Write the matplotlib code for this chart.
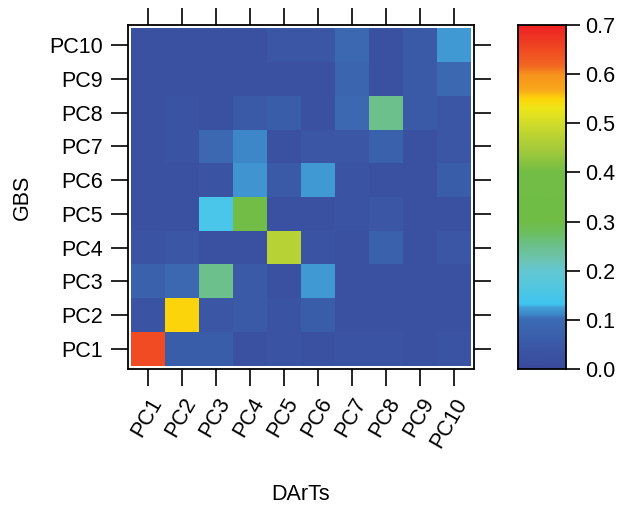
import numpy as np
import matplotlib
matplotlib.use('Agg')
import matplotlib.pyplot as plt
from matplotlib.colors import LinearSegmentedColormap

plt.rcParams['font.family'] = ['Liberation Sans', 'DejaVu Sans']

darts_labels = ['PC1', 'PC2', 'PC3', 'PC4', 'PC5', 'PC6', 'PC7', 'PC8', 'PC9', 'PC10']
gbs_labels = ['PC1', 'PC2', 'PC3', 'PC4', 'PC5', 'PC6', 'PC7', 'PC8', 'PC9', 'PC10']

# rows = GBS PC1..PC10, columns = DArTs PC1..PC10
gbs_pc1 = [0.65, 0.06, 0.06, 0.02, 0.03, 0.02, 0.03, 0.03, 0.02, 0.03]
gbs_pc2 = [0.03, 0.55, 0.04, 0.05, 0.03, 0.06, 0.02, 0.02, 0.02, 0.02]
gbs_pc3 = [0.07, 0.09, 0.25, 0.05, 0.02, 0.122, 0.02, 0.02, 0.02, 0.02]
gbs_pc4 = [0.03, 0.04, 0.02, 0.02, 0.47, 0.03, 0.02, 0.07, 0.02, 0.04]
gbs_pc5 = [0.02, 0.02, 0.15, 0.35, 0.02, 0.02, 0.03, 0.04, 0.02, 0.02]
gbs_pc6 = [0.02, 0.02, 0.03, 0.118, 0.05, 0.122, 0.03, 0.02, 0.02, 0.06]
gbs_pc7 = [0.02, 0.03, 0.09, 0.112, 0.02, 0.04, 0.04, 0.07, 0.02, 0.04]
gbs_pc8 = [0.02, 0.03, 0.02, 0.05, 0.06, 0.02, 0.09, 0.25, 0.05, 0.04]
gbs_pc9 = [0.02, 0.02, 0.02, 0.02, 0.02, 0.02, 0.08, 0.02, 0.05, 0.09]
gbs_pc10 = [0.02, 0.02, 0.02, 0.02, 0.04, 0.04, 0.09, 0.02, 0.05, 0.122]

values = np.array([gbs_pc1, gbs_pc2, gbs_pc3, gbs_pc4, gbs_pc5,
                   gbs_pc6, gbs_pc7, gbs_pc8, gbs_pc9, gbs_pc10])

vmax = 0.7
stops = [
    (0.00, '#3a4a9c'), (0.05, '#3a5aa8'), (0.10, '#3b6cb4'), (0.11, '#3d88c8'),
    (0.125, '#43a0d8'), (0.13, '#3ec4f0'), (0.15, '#4ac6e8'), (0.20, '#64c8d0'),
    (0.22, '#6cc4b4'), (0.25, '#6cc08c'), (0.27, '#6bbf6a'), (0.30, '#70bd45'),
    (0.40, '#72bd45'), (0.45, '#a6cb3a'), (0.50, '#d0dc2a'), (0.53, '#eee61a'),
    (0.55, '#fcd80a'), (0.57, '#f9a61a'), (0.60, '#f7941d'), (0.62, '#f26522'),
    (0.70, '#ed2224'),
]
cmap = LinearSegmentedColormap.from_list('lvl', [(v / vmax, c) for v, c in stops], N=256)

fig = plt.figure(figsize=(6.2, 5.05), dpi=100)
ax = fig.add_axes([128 / 620, 1 - 369 / 505, 346 / 620, 344 / 505])

n = len(darts_labels)
edges = np.arange(n + 1) + 0.5
ax.pcolormesh(edges, edges, values, cmap=cmap, vmin=0, vmax=vmax)
ax.set_xlim(0.4, n + 0.6)
ax.set_ylim(0.4, n + 0.6)

pos = np.arange(1, n + 1)
ax.set_xticks(pos)
ax.set_yticks(pos)
ax.set_xticklabels(darts_labels, rotation=60, ha='right', va='top', rotation_mode='anchor')
ax.set_yticklabels(gbs_labels)
ax.tick_params(axis='both', which='both', direction='out', length=12, width=1.2,
               labelsize=15.5, top=True, right=True, pad=6)
for s in ax.spines.values():
    s.set_linewidth(1.3)
ax.set_xlabel('DArTs', fontsize=15.5, labelpad=24)
ax.set_ylabel('GBS', fontsize=15.5, labelpad=12)

cax = fig.add_axes([518 / 620, 1 - 369 / 505, 48 / 620, 344 / 505])
grad = np.linspace(0, vmax, 500).reshape(-1, 1)
cax.imshow(grad, aspect='auto', cmap=cmap, vmin=0, vmax=vmax, origin='lower',
           extent=[0, 1, 0, vmax])
cax.set_xticks([])
cax.yaxis.tick_right()
cax.set_yticks(np.arange(0, 0.71, 0.1))
cax.set_yticklabels(['%.1f' % v for v in np.arange(0, 0.71, 0.1)])
cax.tick_params(axis='y', direction='out', length=10, width=1.2, labelsize=15.5, pad=4)
for s in cax.spines.values():
    s.set_linewidth(1.3)

fig.savefig('out.png', dpi=100)
